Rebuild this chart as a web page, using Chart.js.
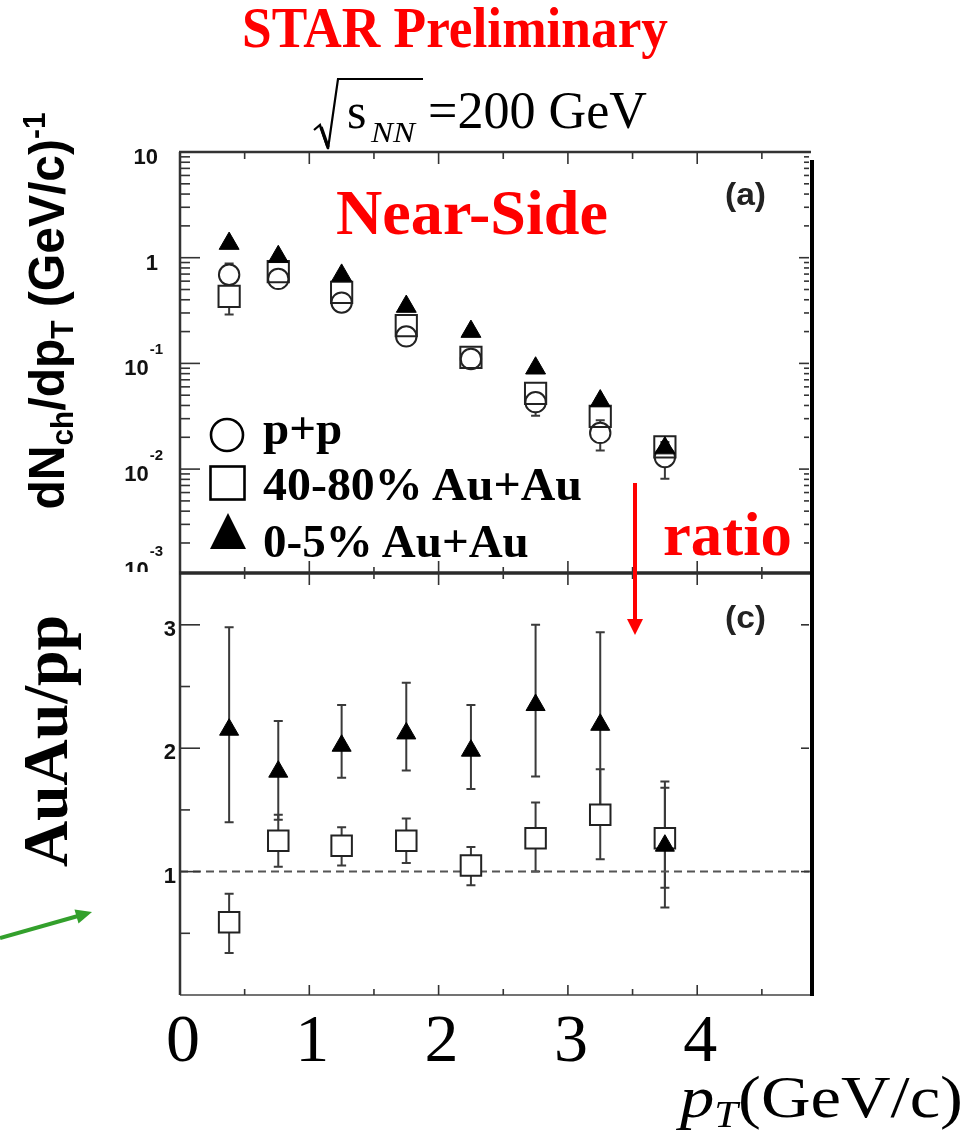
<!DOCTYPE html>
<html>
<head>
<meta charset="utf-8">
<script src="https://cdn.jsdelivr.net/npm/chart.js@4.4.1/dist/chart.umd.min.js"></script>
<style>
  html, body { margin: 0; padding: 0; background: #fff; }
  body { width: 973px; height: 1140px; position: relative; overflow: hidden; }
  canvas { position: absolute; left: 0; top: 0; }
  .t { position: absolute; white-space: nowrap; line-height: 1; margin: 0; }
  .t sub, .t sup { line-height: 0; font-size: 0.62em; }
  .t sub { vertical-align: -0.28em; }
  .t sup { vertical-align: 0.62em; }
  svg { position: absolute; left: 0; top: 0; }
</style>
</head>
<body>
<canvas id="cTop" width="973" height="1140"></canvas>
<canvas id="cRatio" width="973" height="1140"></canvas>
<svg width="973" height="1140" viewBox="0 0 973 1140">
  <!-- radical sign of sqrt(s_NN) -->
  <polyline points="314,130 320,125 328,149 338,79 423,79" fill="none" stroke="#000" stroke-width="2.2" stroke-linejoin="miter"/>
  <line x1="321" y1="127" x2="328" y2="147" stroke="#000" stroke-width="3.5"/>
  <!-- red arrow: spectrum to ratio -->
  <line x1="635" y1="483" x2="635" y2="622" stroke="#ff0000" stroke-width="4"/>
  <polygon points="627,619 643,619 635,635" fill="#ff0000"/>
  <!-- green arrow -->
  <line x1="0" y1="938" x2="78" y2="916" stroke="#33a02c" stroke-width="4"/>
  <polygon points="92,912 78.5,923.5 74.5,909.5" fill="#33a02c"/>
</svg>

<script>
// pT bin centres (GeV/c)
const ptBins = [0.38, 0.76, 1.25, 1.75, 2.25, 2.75, 3.25, 3.75];

// near-side associated yields dN_ch/dpT
const yieldPP     = [0.69, 0.63, 0.376, 0.18, 0.11, 0.043, 0.022, 0.013];
const yieldPPLo   = [0.60, 0.58, 0.35, 0.165, 0.10, 0.032, 0.015, 0.0081];
const yieldPPHi   = [0.88, 0.69, 0.41, 0.20, 0.12, 0.054, 0.029, 0.018];
const yieldPeri   = [0.43, 0.74, 0.47, 0.228, 0.114, 0.052, 0.0316, 0.0162];
const yieldPeriLo = [0.29, 0.68, 0.43, 0.21, 0.105, 0.047, 0.028, 0.0145];
const yieldPeriHi = [0.50, 0.80, 0.51, 0.25, 0.124, 0.058, 0.035, 0.018];
const yieldCent   = [1.36, 1.02, 0.68, 0.345, 0.20, 0.090, 0.044, 0.0158];
const yieldCentLo = [1.28, 0.96, 0.64, 0.325, 0.188, 0.084, 0.041, 0.0146];
const yieldCentHi = [1.45, 1.08, 0.72, 0.365, 0.212, 0.096, 0.047, 0.0170];

// AuAu / pp ratios
const ratioPeri   = [0.59, 1.25, 1.21, 1.25, 1.05, 1.27, 1.46, 1.27];
const ratioPeriLo = [0.34, 1.04, 1.05, 1.07, 0.89, 1.00, 1.10, 0.87];
const ratioPeriHi = [0.82, 1.46, 1.36, 1.43, 1.20, 1.56, 1.83, 1.68];
const ratioCent   = [2.15, 1.81, 2.02, 2.12, 1.98, 2.35, 2.19, 1.21];
const ratioCentLo = [1.40, 1.42, 1.76, 1.82, 1.67, 1.77, 1.48, 0.71];
const ratioCentHi = [2.98, 2.22, 2.35, 2.53, 2.35, 3.00, 2.94, 1.73];

// axis ticks and labels
const xTickVals = [0.5, 1, 1.5, 2, 2.5, 3, 3.5, 4, 4.5];
const xTickLabels = ['0', '1', '2', '3', '4'];
const yLogTickVals = [10, 1, 0.1, 0.01, 0.001];
const yLogTickLabels = [['10', ''], ['1', ''], ['10', '-1'], ['10', '-2'], ['10', '-3']];
const yRatioTickVals = [1, 2, 3];
const yRatioMinorVals = [0.5, 1.5, 2.5];

const legendLabels = ['p+p', '40-80% Au+Au', '0-5% Au+Au'];

const pts = (vals) => ptBins.map((x, i) => ({ x, y: vals[i] }));

// vertical error bars with small caps, drawn under the markers;
// the part hidden by an open marker is left out
const errorBars = {
  id: 'errorBars',
  beforeDatasetsDraw(chart) {
    const { ctx, scales: { x, y } } = chart;
    ctx.save();
    chart.data.datasets.forEach(ds => {
      if (!ds.errLo) return;
      const gap = ds.errGap || 0;
      ctx.strokeStyle = '#3a3a3a';
      ctx.lineWidth = 2;
      ds.data.forEach((p, i) => {
        const px = x.getPixelForValue(p.x);
        const pc = y.getPixelForValue(p.y);
        const yLo = y.getPixelForValue(ds.errLo[i]);
        const yHi = y.getPixelForValue(ds.errHi[i]);
        ctx.beginPath();
        if (yLo > pc + gap) {
          ctx.moveTo(px, pc + gap); ctx.lineTo(px, yLo);
          ctx.moveTo(px - 4.5, yLo); ctx.lineTo(px + 4.5, yLo);
        }
        if (yHi < pc - gap) {
          ctx.moveTo(px, pc - gap); ctx.lineTo(px, yHi);
          ctx.moveTo(px - 4.5, yHi); ctx.lineTo(px + 4.5, yHi);
        }
        ctx.stroke();
      });
    });
    ctx.restore();
  }
};

function line(ctx, x1, y1, x2, y2) {
  ctx.beginPath(); ctx.moveTo(x1, y1); ctx.lineTo(x2, y2); ctx.stroke();
}

// frame, inward ticks, tick labels and legend of the yield panel
const yieldFrame = {
  id: 'yieldFrame',
  afterDatasetsDraw(chart) {
    const { ctx, chartArea: ca, scales: { x, y } } = chart;
    ctx.save();
    ctx.strokeStyle = '#333';
    ctx.lineWidth = 2.5;
    line(ctx, ca.left - 1, ca.top, ca.right, ca.top);
    line(ctx, ca.left, ca.top, ca.left, ca.bottom);
    ctx.lineWidth = 1.6;
    xTickVals.forEach(v => {
      const px = x.getPixelForValue(v);
      line(ctx, px, ca.top, px, ca.top + (Number.isInteger(v) ? 12 : 7));
    });
    for (let k = -3; k <= 1; k++) {
      for (let m = 1; m <= 9; m++) {
        const v = m * Math.pow(10, k);
        if (v < y.min || v > y.max) continue;
        const py = y.getPixelForValue(v);
        line(ctx, ca.left, py, ca.left + (m === 1 ? 20 : 10), py);
        line(ctx, ca.right - 2, py, ca.right - 2 - (m === 1 ? 10 : 5), py);
      }
    }
    // tick labels
    ctx.fillStyle = '#111';
    ctx.save();
    ctx.beginPath(); ctx.rect(0, 0, ca.left, ca.bottom - 1); ctx.clip();
    yLogTickVals.forEach((v, i) => {
      const py = Math.min(y.getPixelForValue(v), ca.bottom - 8);
      const [base, exp] = yLogTickLabels[i];
      ctx.font = 'bold 15px "Liberation Sans"';
      const ew = exp ? ctx.measureText(exp).width : 0;
      ctx.textAlign = 'right';
      ctx.textBaseline = 'alphabetic';
      if (exp) ctx.fillText(exp, 163, py - 9);
      ctx.font = 'bold 22px "Liberation Sans"';
      ctx.fillText(base, exp ? 163 - ew - 1 : 158, py + 12);
    });
    ctx.restore();
    // legend
    ctx.strokeStyle = '#000';
    ctx.fillStyle = '#000';
    ctx.lineWidth = 2.6;
    ctx.beginPath(); ctx.arc(227, 435, 16, 0, Math.PI * 2); ctx.stroke();
    ctx.strokeRect(210.5, 466.5, 34, 33);
    ctx.beginPath(); ctx.moveTo(228, 513); ctx.lineTo(246, 549); ctx.lineTo(210, 549); ctx.closePath(); ctx.fill();
    ctx.restore();
  }
};

// frame, ticks, reference line and labels of the ratio panel
const ratioFrame = {
  id: 'ratioFrame',
  beforeDatasetsDraw(chart) {
    const { ctx, chartArea: ca, scales: { y } } = chart;
    ctx.save();
    ctx.strokeStyle = '#555';
    ctx.lineWidth = 2;
    ctx.setLineDash([8, 5]);
    const py = y.getPixelForValue(1);
    line(ctx, ca.left, py, ca.right, py);
    ctx.restore();
  },
  afterDatasetsDraw(chart) {
    const { ctx, chartArea: ca, scales: { x, y } } = chart;
    ctx.save();
    ctx.strokeStyle = '#444';
    ctx.lineWidth = 1.6;
    line(ctx, ca.left, ca.bottom, ca.right, ca.bottom);
    ctx.strokeStyle = '#333';
    ctx.lineWidth = 2.5;
    line(ctx, ca.left, ca.top, ca.left, ca.bottom);
    ctx.strokeStyle = '#2a2a2a';
    ctx.lineWidth = 3.5;
    line(ctx, ca.left - 1, ca.top, ca.right, ca.top);
    ctx.lineWidth = 1.6;
    ctx.strokeStyle = '#333';
    xTickVals.forEach(v => {
      const px = x.getPixelForValue(v);
      const big = Number.isInteger(v);
      line(ctx, px, ca.top - (big ? 12 : 6), px, ca.top + (big ? 12 : 6));
      line(ctx, px, ca.bottom, px, ca.bottom - (big ? 10 : 6));
    });
    yRatioTickVals.forEach(v => {
      const p = y.getPixelForValue(v);
      line(ctx, ca.left, p, ca.left + 20, p);
      line(ctx, ca.right - 2, p, ca.right - 10, p);
    });
    yRatioMinorVals.forEach(v => {
      const p = y.getPixelForValue(v);
      line(ctx, ca.left, p, ca.left + 10, p);
    });
    ctx.fillStyle = '#111';
    ctx.font = 'bold 22px "Liberation Sans"';
    ctx.textAlign = 'right';
    ctx.textBaseline = 'alphabetic';
    yRatioTickVals.forEach(v => {
      ctx.fillText(String(v), 176, y.getPixelForValue(v) + 11);
    });
    ctx.fillStyle = '#000';
    ctx.font = '68px "Liberation Serif"';
    ctx.textAlign = 'center';
    xTickLabels.forEach(s => {
      ctx.fillText(s, x.getPixelForValue(Number(s)) + 3, 1061);
    });
    // heavy right edge
    ctx.strokeStyle = '#000';
    ctx.lineWidth = 4;
    line(ctx, ca.right + 1, 160, ca.right + 1, ca.bottom + 1);
    ctx.restore();
  }
};

const baseOptions = (padding, yScale) => ({
  responsive: false,
  animation: false,
  events: [],
  layout: { padding },
  plugins: { legend: { display: false }, tooltip: { enabled: false } },
  scales: {
    x: { type: 'linear', min: 0, max: 4.88, display: false },
    y: yScale
  }
});

new Chart(document.getElementById('cTop'), {
  type: 'scatter',
  data: {
    datasets: [
      { label: legendLabels[2], data: pts(yieldCent), errLo: yieldCentLo, errHi: yieldCentHi, errGap: 0,
        pointStyle: 'triangle', pointRadius: 11.5, backgroundColor: '#000', borderColor: '#000', borderWidth: 1 },
      { label: legendLabels[1], data: pts(yieldPeri), errLo: yieldPeriLo, errHi: yieldPeriHi, errGap: 11,
        pointStyle: 'rect', pointRadius: 15, backgroundColor: 'rgba(0,0,0,0)', borderColor: '#222', borderWidth: 2 },
      { label: legendLabels[0], data: pts(yieldPP), errLo: yieldPPLo, errHi: yieldPPHi, errGap: 10.5,
        pointStyle: 'circle', pointRadius: 10.2, backgroundColor: 'rgba(0,0,0,0)', borderColor: '#222', borderWidth: 2 }
    ]
  },
  options: baseOptions({ left: 180, top: 152, right: 162, bottom: 567 },
    { type: 'logarithmic', min: 0.00104, max: 10, display: false }),
  plugins: [errorBars, yieldFrame]
});

new Chart(document.getElementById('cRatio'), {
  type: 'scatter',
  data: {
    datasets: [
      { label: legendLabels[2], data: pts(ratioCent), errLo: ratioCentLo, errHi: ratioCentHi,
        pointStyle: 'triangle', pointRadius: 11, backgroundColor: '#000', borderColor: '#000', borderWidth: 1 },
      { label: legendLabels[1], data: pts(ratioPeri), errLo: ratioPeriLo, errHi: ratioPeriHi,
        pointStyle: 'rect', pointRadius: 14.5, backgroundColor: '#fff', borderColor: '#222', borderWidth: 2 }
    ]
  },
  options: baseOptions({ left: 180, top: 573, right: 162, bottom: 145 },
    { type: 'linear', min: 0, max: 3.42, display: false }),
  plugins: [errorBars, ratioFrame]
});

// text placed by baseline; optional width squeezes/stretches horizontally
function put(html, o) {
  const d = document.createElement('div');
  d.className = 't';
  d.innerHTML = html;
  const serif = o.family !== 'sans';
  d.style.fontFamily = serif ? '"Liberation Serif", serif' : '"Liberation Sans", sans-serif';
  d.style.fontSize = o.size + 'px';
  d.style.fontWeight = o.bold ? 'bold' : 'normal';
  d.style.color = o.color || '#000';
  d.style.left = o.x + 'px';
  d.style.top = (o.base - (serif ? 0.8375 : 0.8465) * o.size) + 'px';
  document.body.appendChild(d);
  if (o.width) {
    const w = d.getBoundingClientRect().width;
    d.style.transformOrigin = '0 0';
    d.style.transform = 'scaleX(' + (o.width / w) + ')';
  }
  return d;
}

// rotated (bottom-to-top) text centred on a point, fitted to a length
function putRotated(html, o) {
  const d = document.createElement('div');
  d.className = 't';
  d.innerHTML = html;
  const serif = o.family !== 'sans';
  d.style.fontFamily = serif ? '"Liberation Serif", serif' : '"Liberation Sans", sans-serif';
  d.style.fontSize = o.size + 'px';
  d.style.fontWeight = 'bold';
  d.style.color = '#000';
  d.style.left = o.cx + 'px';
  d.style.top = o.cy + 'px';
  document.body.appendChild(d);
  const w = d.getBoundingClientRect().width;
  d.style.transformOrigin = '0 0';
  d.style.transform = 'rotate(-90deg) scaleX(' + (o.length / w) + ') translate(-50%,-50%)';
  return d;
}

put('STAR Preliminary', { x: 242, base: 47, size: 56, bold: true, color: '#ff0000', width: 426 });
put('s', { x: 347, base: 128, size: 50 });
put('<i>NN</i>', { x: 371, base: 142, size: 30, width: 44 });
put('=200 GeV', { x: 428, base: 128, size: 53, width: 219 });
put('Near-Side', { x: 336, base: 235, size: 64, bold: true, color: '#ff0000', width: 272 });
put('ratio', { x: 663, base: 555, size: 62, bold: true, color: '#ff0000', width: 129 });
put('(a)', { x: 725, base: 205, size: 32, bold: true, family: 'sans', color: '#222', width: 41 });
put('(c)', { x: 725, base: 628, size: 32, bold: true, family: 'sans', color: '#222', width: 41 });
put(legendLabels[0], { x: 263, base: 444, size: 47, bold: true });
put(legendLabels[1], { x: 263, base: 500, size: 47, bold: true, width: 319 });
put(legendLabels[2], { x: 263, base: 557, size: 47, bold: true });
put('<i>p</i><sub><i>T</i></sub>(GeV/c)', { x: 680, base: 1117, size: 60, width: 283 });

putRotated('dN<sub>ch</sub>/dp<sub>T</sub> (GeV/c)<sup>-1</sup>', { cx: 47, cy: 311, size: 50, family: 'sans', length: 397 });
putRotated('AuAu/pp', { cx: 46, cy: 741, size: 63, length: 252 });
</script>
</body>
</html>
